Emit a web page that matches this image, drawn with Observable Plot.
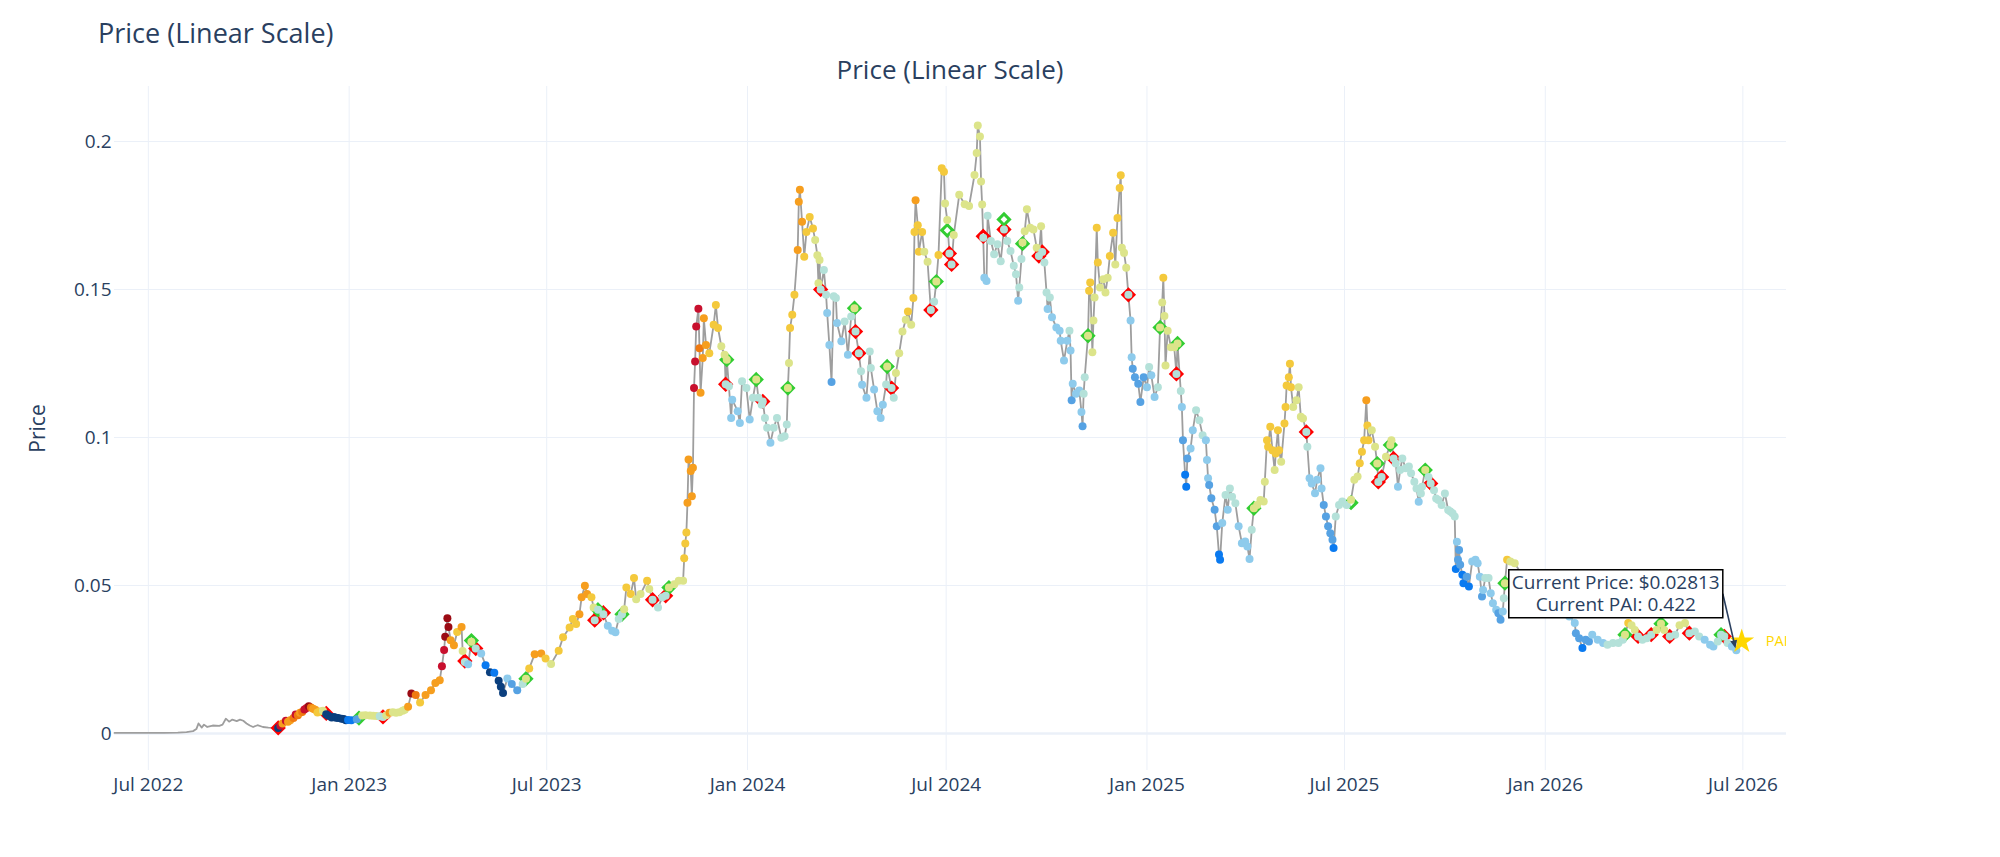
<!DOCTYPE html>
<html>
<head>
<meta charset="utf-8">
<script src="https://cdn.jsdelivr.net/npm/d3@7"></script>
<script src="https://cdn.jsdelivr.net/npm/@observablehq/plot@0.6"></script>
<style>
  body { margin: 0; background: #fff; font-family: "Open Sans", sans-serif; }
  #wrap { width: 2000px; }
  #header { position: relative; height: 86px; }
  #title { position: absolute; left: 98px; top: 19px; font-size: 27px; line-height: 27px; color: #2a3f5f; white-space: nowrap; }
  #subtitle { position: absolute; left: 114px; width: 1672px; text-align: center; top: 56px; font-size: 26px; line-height: 26px; color: #2a3f5f; white-space: nowrap; }
</style>
</head>
<body>
<div id="wrap">
  <div id="header">
    <div id="title">Price (Linear Scale)</div>
    <div id="subtitle">Price (Linear Scale)</div>
  </div>
  <div id="chart"></div>
</div>
<script>
// ---------- DATA ----------
const xTicks = ["2022-07-01","2023-01-01","2023-07-01","2024-01-01","2024-07-01","2025-01-01","2025-07-01","2026-01-01","2026-07-01"];
const yTicks = [0, 0.05, 0.1, 0.15, 0.2];
const yLabel = "Price";
const starLabel = "PAI";

// price before PAI signal history (gray line only) [date, price]
const earlyPrice = [
["2022-05-31",0.0002],["2022-06-15",0.0002],["2022-07-01",0.0002],["2022-07-15",0.0002],["2022-07-28",0.0003],
["2022-08-05",0.0005],["2022-08-11",0.0008],["2022-08-14",0.0015],["2022-08-16",0.0034],["2022-08-19",0.0020],
["2022-08-21",0.0030],["2022-08-24",0.0022],["2022-08-29",0.0027],["2022-09-04",0.0026],["2022-09-07",0.0030],
["2022-09-10",0.0050],["2022-09-13",0.0040],["2022-09-16",0.0047],["2022-09-20",0.0042],["2022-09-23",0.0047],
["2022-09-26",0.0043],["2022-09-29",0.0034],["2022-10-02",0.0027],["2022-10-05",0.0022],["2022-10-09",0.0028],
["2022-10-14",0.0022],["2022-10-19",0.0020]
];

// [date, price, PAI]
const pai2022 = [
["2022-10-28",0.0019,0.05],["2022-10-30",0.0026,0.9],["2022-11-01",0.0034,0.75],["2022-11-04",0.0043,0.9],
["2022-11-06",0.0040,0.75],["2022-11-08",0.0045,0.75],["2022-11-11",0.0052,0.83],["2022-11-13",0.0064,0.9],
["2022-11-15",0.0062,0.83],["2022-11-17",0.0070,0.75],["2022-11-19",0.0073,0.83],["2022-11-21",0.0081,0.9],
["2022-11-23",0.0086,0.9],["2022-11-25",0.0092,0.97],["2022-11-27",0.0088,0.83],["2022-11-29",0.0084,0.75],
["2022-12-01",0.0080,0.75],["2022-12-03",0.0071,0.65],["2022-12-05",0.0074,0.65],["2022-12-08",0.0077,0.55],
["2022-12-11",0.0065,0.05],["2022-12-13",0.0060,0.05],["2022-12-16",0.0054,0.05],["2022-12-18",0.0056,0.05],
["2022-12-20",0.0053,0.05],["2022-12-22",0.0052,0.05],["2022-12-25",0.0050,0.05],["2022-12-27",0.0049,0.05],
["2022-12-29",0.0045,0.05],["2022-12-31",0.0046,0.15]
];

const pai2023 = [
["2023-01-03",0.0045,0.15],["2023-01-08",0.0048,0.25],["2023-01-13",0.0061,0.55],["2023-01-16",0.0062,0.55],
["2023-01-20",0.0061,0.55],["2023-01-23",0.0060,0.55],["2023-01-26",0.0059,0.55],["2023-01-29",0.0058,0.45],
["2023-02-01",0.0056,0.45],["2023-02-04",0.0062,0.55],["2023-02-07",0.0070,0.75],["2023-02-10",0.0072,0.55],
["2023-02-13",0.0070,0.55],["2023-02-16",0.0072,0.55],["2023-02-19",0.0077,0.55],["2023-02-21",0.0080,0.55],
["2023-02-24",0.0090,0.75],["2023-02-27",0.0135,0.97],["2023-03-03",0.0130,0.83],["2023-03-07",0.0105,0.65],
["2023-03-12",0.0130,0.75],["2023-03-17",0.0146,0.75],["2023-03-21",0.0171,0.75],["2023-03-25",0.0180,0.75],
["2023-03-27",0.0227,0.9],["2023-03-29",0.0282,0.9],["2023-03-30",0.0327,0.97],["2023-04-01",0.0389,0.97],
["2023-04-02",0.0360,0.97],["2023-04-04",0.0315,0.75],["2023-04-07",0.0298,0.75],["2023-04-10",0.0343,0.65],
["2023-04-14",0.0360,0.75],["2023-04-15",0.0279,0.55],["2023-04-17",0.0242,0.45],["2023-04-20",0.0234,0.35],
["2023-04-23",0.0310,0.55],["2023-04-27",0.0287,0.45],["2023-05-02",0.0270,0.35],["2023-05-06",0.0231,0.15],
["2023-05-10",0.0207,0.05],["2023-05-14",0.0205,0.15],["2023-05-18",0.0178,0.05],["2023-05-20",0.0158,0.05],
["2023-05-22",0.0137,0.05],["2023-05-26",0.0186,0.35],["2023-05-30",0.0167,0.25],["2023-06-04",0.0146,0.25],
["2023-06-09",0.0167,0.45],["2023-06-12",0.0185,0.55],["2023-06-15",0.0220,0.65],["2023-06-20",0.0268,0.75],
["2023-06-26",0.0270,0.75],["2023-06-30",0.0253,0.65],["2023-07-05",0.0235,0.55],["2023-07-12",0.0280,0.65],
["2023-07-16",0.0325,0.65],["2023-07-22",0.0358,0.65],["2023-07-25",0.0387,0.65],["2023-07-28",0.0370,0.65],
["2023-07-31",0.0403,0.75],["2023-08-02",0.0460,0.75],["2023-08-05",0.0499,0.75],["2023-08-07",0.0471,0.75],
["2023-08-11",0.0460,0.65],["2023-08-13",0.0426,0.55],["2023-08-14",0.0383,0.45],["2023-08-17",0.0418,0.45],
["2023-08-22",0.0403,0.45],["2023-08-26",0.0364,0.35],["2023-08-30",0.0347,0.35],["2023-09-02",0.0342,0.35],
["2023-09-05",0.0387,0.45],["2023-09-08",0.0403,0.45],["2023-09-10",0.0420,0.55],["2023-09-12",0.0493,0.65],
["2023-09-16",0.0471,0.65],["2023-09-19",0.0525,0.65],["2023-09-21",0.0454,0.55],["2023-09-25",0.0471,0.55],
["2023-10-01",0.0516,0.65],["2023-10-03",0.0488,0.55],["2023-10-06",0.0452,0.45],["2023-10-11",0.0426,0.45],
["2023-10-15",0.0460,0.45],["2023-10-18",0.0465,0.45],["2023-10-21",0.0493,0.55],["2023-10-26",0.0504,0.55],
["2023-10-30",0.0516,0.55],["2023-11-03",0.0516,0.55],["2023-11-04",0.0592,0.65],["2023-11-05",0.0642,0.65],
["2023-11-06",0.0679,0.65],["2023-11-07",0.0780,0.75],["2023-11-08",0.0926,0.75],["2023-11-10",0.0887,0.75],
["2023-11-11",0.0802,0.75],["2023-11-12",0.0898,0.75],["2023-11-13",0.1167,0.9],["2023-11-14",0.1257,0.9],
["2023-11-15",0.1375,0.9],["2023-11-17",0.1435,0.9],["2023-11-18",0.1302,0.83],["2023-11-19",0.1151,0.75],
["2023-11-21",0.1269,0.75],["2023-11-22",0.1403,0.75],["2023-11-24",0.1313,0.75],["2023-11-27",0.1285,0.65],
["2023-12-01",0.1381,0.65],["2023-12-03",0.1448,0.65],["2023-12-05",0.1370,0.65],["2023-12-08",0.1308,0.55],
["2023-12-11",0.1280,0.55],["2023-12-12",0.1180,0.45],["2023-12-13",0.1263,0.55],["2023-12-15",0.1173,0.45],
["2023-12-17",0.1066,0.35],["2023-12-18",0.1128,0.35],["2023-12-23",0.1089,0.35],["2023-12-25",0.1049,0.35],
["2023-12-27",0.1190,0.45],["2023-12-31",0.1167,0.45]
];

const pai2024 = [
["2024-01-03",0.1061,0.35],["2024-01-06",0.1134,0.45],["2024-01-09",0.1196,0.55],["2024-01-11",0.1134,0.45],
["2024-01-14",0.1111,0.45],["2024-01-15",0.1122,0.45],["2024-01-17",0.1066,0.45],["2024-01-19",0.1033,0.45],
["2024-01-22",0.0982,0.35],["2024-01-25",0.1033,0.45],["2024-01-28",0.1066,0.45],["2024-02-01",0.0999,0.45],
["2024-02-04",0.1004,0.45],["2024-02-06",0.1044,0.45],["2024-02-07",0.1167,0.55],["2024-02-08",0.1252,0.55],
["2024-02-09",0.1370,0.65],["2024-02-11",0.1415,0.65],["2024-02-13",0.1482,0.65],["2024-02-16",0.1634,0.75],
["2024-02-17",0.1797,0.75],["2024-02-18",0.1837,0.75],["2024-02-20",0.1729,0.75],["2024-02-22",0.1611,0.65],
["2024-02-24",0.1694,0.65],["2024-02-27",0.1745,0.65],["2024-03-01",0.1706,0.65],["2024-03-03",0.1667,0.55],
["2024-03-05",0.1616,0.55],["2024-03-06",0.1521,0.55],["2024-03-07",0.1600,0.55],["2024-03-08",0.1500,0.45],
["2024-03-11",0.1566,0.45],["2024-03-13",0.1482,0.45],["2024-03-14",0.1421,0.35],["2024-03-16",0.1313,0.35],
["2024-03-18",0.1188,0.25],["2024-03-20",0.1477,0.45],["2024-03-22",0.1471,0.45],["2024-03-23",0.1387,0.35],
["2024-03-27",0.1325,0.35],["2024-03-30",0.1392,0.45],["2024-04-02",0.1280,0.35],["2024-04-05",0.1409,0.45],
["2024-04-08",0.1437,0.55],["2024-04-09",0.1358,0.45],["2024-04-12",0.1285,0.45],["2024-04-14",0.1224,0.45],
["2024-04-15",0.1178,0.35],["2024-04-19",0.1134,0.35],["2024-04-22",0.1291,0.45],["2024-04-23",0.1235,0.45],
["2024-04-26",0.1162,0.35],["2024-04-29",0.1089,0.35],["2024-05-02",0.1066,0.35],["2024-05-04",0.1111,0.35],
["2024-05-07",0.1179,0.45],["2024-05-08",0.1240,0.55],["2024-05-12",0.1167,0.45],["2024-05-14",0.1134,0.45],
["2024-05-16",0.1218,0.55],["2024-05-19",0.1285,0.55],["2024-05-22",0.1358,0.55],["2024-05-25",0.1398,0.55],
["2024-05-27",0.1426,0.65],["2024-05-30",0.1381,0.55],["2024-06-01",0.1471,0.65],["2024-06-02",0.1694,0.65],
["2024-06-03",0.1802,0.75],["2024-06-05",0.1717,0.65],["2024-06-06",0.1628,0.65],["2024-06-09",0.1694,0.65],
["2024-06-11",0.1628,0.55],["2024-06-14",0.1594,0.55],["2024-06-17",0.1431,0.45],["2024-06-20",0.1459,0.45],
["2024-06-22",0.1527,0.55],["2024-06-24",0.1617,0.65],["2024-06-27",0.1910,0.65],["2024-06-29",0.1898,0.65],
["2024-06-30",0.1791,0.55],["2024-07-02",0.1735,0.55],["2024-07-04",0.1622,0.45],["2024-07-06",0.1585,0.45],
["2024-07-08",0.1684,0.55],["2024-07-13",0.1820,0.55],["2024-07-18",0.1788,0.55],["2024-07-22",0.1782,0.55],
["2024-07-27",0.1887,0.55],["2024-07-29",0.1961,0.55],["2024-07-30",0.2054,0.55],["2024-08-01",0.2017,0.55],
["2024-08-02",0.1865,0.55],["2024-08-03",0.1787,0.55],["2024-08-04",0.1675,0.45],["2024-08-05",0.1540,0.35],
["2024-08-07",0.1529,0.35],["2024-08-08",0.1749,0.45],["2024-08-11",0.1664,0.45],["2024-08-14",0.1619,0.45],
["2024-08-17",0.1653,0.45],["2024-08-20",0.1596,0.45],["2024-08-23",0.1703,0.45],["2024-08-26",0.1664,0.45],
["2024-08-29",0.1630,0.45],["2024-09-01",0.1580,0.45],["2024-09-03",0.1552,0.45],["2024-09-05",0.1462,0.35],
["2024-09-06",0.1507,0.45],["2024-09-08",0.1603,0.45],["2024-09-09",0.1659,0.55],["2024-09-11",0.1697,0.55],
["2024-09-13",0.1771,0.55],["2024-09-16",0.1709,0.55],["2024-09-19",0.1703,0.55],["2024-09-22",0.1641,0.55],
["2024-09-24",0.1613,0.45],["2024-09-26",0.1714,0.55],["2024-09-27",0.1627,0.45],["2024-09-29",0.1591,0.45],
["2024-10-01",0.1490,0.45],["2024-10-02",0.1434,0.35],["2024-10-04",0.1473,0.45],["2024-10-06",0.1406,0.35],
["2024-10-10",0.1372,0.35],["2024-10-13",0.1361,0.35],["2024-10-14",0.1327,0.35],["2024-10-17",0.1260,0.35],
["2024-10-20",0.1327,0.35],["2024-10-22",0.1361,0.45],["2024-10-23",0.1294,0.35],["2024-10-24",0.1126,0.25],
["2024-10-25",0.1182,0.35],["2024-10-28",0.1148,0.35],["2024-10-31",0.1159,0.35],["2024-11-02",0.1086,0.35],
["2024-11-03",0.1038,0.25],["2024-11-04",0.1148,0.45],["2024-11-05",0.1204,0.45],["2024-11-08",0.1344,0.55],
["2024-11-09",0.1496,0.65],["2024-11-10",0.1524,0.65],["2024-11-12",0.1288,0.55],["2024-11-13",0.1395,0.55],
["2024-11-14",0.1473,0.55],["2024-11-16",0.1709,0.65],["2024-11-17",0.1591,0.65],["2024-11-19",0.1507,0.55],
["2024-11-22",0.1535,0.55],["2024-11-24",0.1490,0.55],["2024-11-26",0.1540,0.55],["2024-11-28",0.1613,0.65],
["2024-12-01",0.1692,0.65],["2024-12-03",0.1585,0.55],["2024-12-05",0.1742,0.65],["2024-12-07",0.1843,0.65],
["2024-12-08",0.1886,0.65],["2024-12-09",0.1641,0.55],["2024-12-11",0.1624,0.55],["2024-12-13",0.1574,0.55],
["2024-12-15",0.1482,0.45],["2024-12-17",0.1395,0.35],["2024-12-18",0.1271,0.35],["2024-12-19",0.1232,0.25],
["2024-12-21",0.1204,0.25],["2024-12-24",0.1182,0.25],["2024-12-26",0.1120,0.25],["2024-12-29",0.1204,0.25]
];

const pai2025 = [
["2025-01-01",0.1170,0.35],["2025-01-03",0.1238,0.45],["2025-01-05",0.1210,0.35],["2025-01-08",0.1137,0.35],
["2025-01-11",0.1170,0.45],["2025-01-13",0.1372,0.55],["2025-01-15",0.1456,0.55],["2025-01-16",0.1540,0.65],
["2025-01-17",0.1411,0.55],["2025-01-18",0.1243,0.55],["2025-01-20",0.1361,0.55],["2025-01-23",0.1305,0.55],
["2025-01-26",0.1305,0.55],["2025-01-28",0.1215,0.45],["2025-01-29",0.1318,0.55],["2025-02-01",0.1157,0.45],
["2025-02-02",0.1103,0.35],["2025-02-03",0.0991,0.25],["2025-02-05",0.0874,0.15],["2025-02-06",0.0834,0.15],
["2025-02-07",0.0929,0.25],["2025-02-10",0.0963,0.35],["2025-02-12",0.1025,0.35],["2025-02-15",0.1092,0.45],
["2025-02-18",0.1058,0.45],["2025-02-21",0.1008,0.45],["2025-02-24",0.0991,0.35],["2025-02-25",0.0924,0.35],
["2025-02-26",0.0862,0.35],["2025-02-27",0.0840,0.25],["2025-03-01",0.0795,0.25],["2025-03-04",0.0756,0.25],
["2025-03-06",0.0700,0.25],["2025-03-08",0.0605,0.15],["2025-03-09",0.0587,0.15],["2025-03-11",0.0711,0.35],
["2025-03-14",0.0806,0.45],["2025-03-16",0.0756,0.35],["2025-03-18",0.0828,0.45],["2025-03-20",0.0800,0.45],
["2025-03-23",0.0778,0.45],["2025-03-26",0.0700,0.35],["2025-03-29",0.0643,0.35],["2025-04-01",0.0649,0.35],
["2025-04-03",0.0632,0.35],["2025-04-05",0.0590,0.35],["2025-04-07",0.0688,0.45],["2025-04-09",0.0761,0.55],
["2025-04-12",0.0772,0.55],["2025-04-15",0.0789,0.55],["2025-04-18",0.0784,0.55],["2025-04-19",0.0851,0.55],
["2025-04-21",0.0991,0.65],["2025-04-22",0.0969,0.65],["2025-04-24",0.1036,0.65],["2025-04-26",0.0957,0.65],
["2025-04-28",0.0890,0.55],["2025-04-29",0.0946,0.65],["2025-05-01",0.1025,0.65],["2025-05-02",0.0957,0.65],
["2025-05-04",0.0918,0.55],["2025-05-07",0.1047,0.65],["2025-05-08",0.1103,0.65],["2025-05-09",0.1176,0.65],
["2025-05-11",0.1204,0.65],["2025-05-12",0.1249,0.65],["2025-05-13",0.1170,0.65],["2025-05-15",0.1103,0.55],
["2025-05-18",0.1126,0.55],["2025-05-20",0.1170,0.55],["2025-05-22",0.1070,0.55],["2025-05-24",0.1064,0.55],
["2025-05-27",0.1019,0.45],["2025-05-28",0.0969,0.45],["2025-05-30",0.0862,0.35],["2025-06-01",0.0845,0.35],
["2025-06-04",0.0812,0.35],["2025-06-06",0.0857,0.35],["2025-06-09",0.0896,0.35],["2025-06-10",0.0828,0.35],
["2025-06-12",0.0772,0.25],["2025-06-14",0.0733,0.25],["2025-06-16",0.0700,0.25],["2025-06-18",0.0677,0.25],
["2025-06-20",0.0655,0.25],["2025-06-21",0.0627,0.15],["2025-06-23",0.0733,0.45],["2025-06-26",0.0772,0.45],
["2025-06-29",0.0784,0.45],["2025-07-03",0.0772,0.45],["2025-07-07",0.0790,0.55],["2025-07-10",0.0857,0.55],
["2025-07-13",0.0868,0.55],["2025-07-15",0.0913,0.65],["2025-07-17",0.0952,0.65],["2025-07-19",0.0991,0.65],
["2025-07-21",0.1126,0.75],["2025-07-22",0.1041,0.65],["2025-07-23",0.0991,0.65],["2025-07-26",0.1025,0.55],
["2025-07-29",0.0969,0.55],["2025-07-31",0.0912,0.55],["2025-08-01",0.0850,0.45],["2025-08-04",0.0867,0.45],
["2025-08-08",0.0935,0.55],["2025-08-12",0.0975,0.55],["2025-08-13",0.0991,0.55],["2025-08-15",0.0929,0.45],
["2025-08-17",0.0912,0.45],["2025-08-19",0.0834,0.35],["2025-08-21",0.0890,0.45],["2025-08-23",0.0929,0.45],
["2025-08-26",0.0896,0.45],["2025-08-29",0.0902,0.45],["2025-08-31",0.0879,0.45],["2025-09-03",0.0851,0.45],
["2025-09-05",0.0828,0.45],["2025-09-07",0.0783,0.35],["2025-09-09",0.0811,0.45],["2025-09-10",0.0834,0.45],
["2025-09-13",0.0890,0.55],["2025-09-16",0.0867,0.45],["2025-09-18",0.0845,0.45],["2025-09-21",0.0822,0.45],
["2025-09-23",0.0794,0.45],["2025-09-25",0.0789,0.45],["2025-09-28",0.0772,0.45],["2025-10-01",0.0811,0.45],
["2025-10-04",0.0755,0.45],["2025-10-06",0.0750,0.45],["2025-10-08",0.0744,0.45],["2025-10-10",0.0733,0.45],
["2025-10-11",0.0556,0.15],["2025-10-12",0.0648,0.35],["2025-10-13",0.0587,0.25],["2025-10-14",0.0620,0.25],
["2025-10-15",0.0570,0.25],["2025-10-17",0.0536,0.15],["2025-10-18",0.0508,0.15],["2025-10-21",0.0530,0.25],
["2025-10-23",0.0497,0.15],["2025-10-26",0.0581,0.35],["2025-10-29",0.0587,0.35],["2025-10-31",0.0575,0.35],
["2025-11-02",0.0530,0.35],["2025-11-04",0.0463,0.25],["2025-11-05",0.0485,0.35],["2025-11-07",0.0525,0.45],
["2025-11-10",0.0525,0.45],["2025-11-12",0.0474,0.35],["2025-11-14",0.0440,0.35],["2025-11-17",0.0418,0.35],
["2025-11-19",0.0406,0.25],["2025-11-21",0.0384,0.25],["2025-11-23",0.0412,0.35],["2025-11-24",0.0457,0.45],
["2025-11-25",0.0508,0.55],["2025-11-27",0.0587,0.65],["2025-11-30",0.0581,0.55],["2025-12-04",0.0575,0.55],
["2025-12-10",0.0540,0.55],["2025-12-16",0.0510,0.45],["2025-12-22",0.0480,0.45],["2025-12-28",0.0460,0.35]
];

const pai2026 = [
["2026-01-04",0.0450,0.35],["2026-01-10",0.0430,0.35],["2026-01-17",0.0410,0.35],["2026-01-23",0.0395,0.35],
["2026-01-28",0.0373,0.35],["2026-01-29",0.0339,0.25],["2026-02-01",0.0322,0.25],["2026-02-04",0.0289,0.15],
["2026-02-07",0.0317,0.25],["2026-02-10",0.0311,0.25],["2026-02-13",0.0334,0.35],["2026-02-18",0.0317,0.35],
["2026-02-23",0.0306,0.35],["2026-02-27",0.0300,0.45],["2026-03-04",0.0306,0.45],["2026-03-09",0.0306,0.45],
["2026-03-13",0.0317,0.45],["2026-03-15",0.0334,0.55],["2026-03-18",0.0373,0.65],["2026-03-21",0.0366,0.55],
["2026-03-24",0.0350,0.55],["2026-03-27",0.0328,0.45],["2026-03-31",0.0317,0.45],["2026-04-04",0.0322,0.45],
["2026-04-08",0.0334,0.45],["2026-04-13",0.0350,0.55],["2026-04-17",0.0371,0.55],["2026-04-20",0.0350,0.55],
["2026-04-25",0.0328,0.45],["2026-04-30",0.0334,0.45],["2026-05-04",0.0366,0.55],["2026-05-09",0.0373,0.55],
["2026-05-13",0.0339,0.45],["2026-05-18",0.0345,0.45],["2026-05-22",0.0328,0.45],["2026-05-27",0.0317,0.35],
["2026-06-01",0.0300,0.35],["2026-06-04",0.0294,0.35],["2026-06-08",0.0311,0.45],["2026-06-11",0.0334,0.45],
["2026-06-14",0.0328,0.45],["2026-06-17",0.0306,0.45],["2026-06-21",0.0294,0.35],["2026-06-25",0.02813,0.422]
];

// buy / sell signals [date, price]
const buySignals = [
["2023-01-10",0.0052],["2023-04-23",0.0314],["2023-06-12",0.0185],["2023-08-17",0.0418],["2023-09-08",0.0403],
["2023-10-21",0.0493],["2023-12-13",0.1263],["2024-01-09",0.1196],["2024-02-07",0.1167],["2024-04-08",0.1437],
["2024-05-08",0.1240],["2024-06-22",0.1527],["2024-07-02",0.1700],["2024-08-23",0.1737],["2024-09-09",0.1655],
["2024-11-08",0.1344],["2025-01-13",0.1372],["2025-01-29",0.1318],["2025-04-09",0.0761],["2025-07-07",0.0780],
["2025-07-31",0.0912],["2025-08-12",0.0975],["2025-09-13",0.0890],["2025-11-25",0.0508],["2026-03-15",0.0334],
["2026-04-17",0.0371],["2026-06-11",0.0334]
];
const sellSignals = [
["2022-10-28",0.0019],["2022-12-11",0.0068],["2023-02-01",0.0056],["2023-04-17",0.0245],["2023-04-27",0.0287],
["2023-08-14",0.0383],["2023-08-22",0.0408],["2023-10-06",0.0452],["2023-10-18",0.0465],["2023-12-12",0.1180],
["2024-01-15",0.1122],["2024-03-08",0.1500],["2024-04-09",0.1358],["2024-04-12",0.1285],["2024-05-12",0.1167],
["2024-06-17",0.1431],["2024-07-04",0.1622],["2024-07-06",0.1585],["2024-08-04",0.1680],["2024-08-23",0.1703],
["2024-09-24",0.1613],["2024-09-27",0.1627],["2024-12-15",0.1482],["2025-01-28",0.1215],["2025-05-27",0.1019],
["2025-08-01",0.0850],["2025-08-04",0.0867],["2025-08-15",0.0929],["2025-09-18",0.0845],["2026-03-27",0.0328],
["2026-04-08",0.0334],["2026-04-25",0.0328],["2026-05-13",0.0339],["2026-06-14",0.0328]
];
const starPoint = [["2026-06-30",0.0311]];

// PAI colour bands
const paiThresholds = [0.1, 0.2, 0.3, 0.43, 0.5, 0.6, 0.7, 0.8, 0.87, 0.94];
const paiColors = ["#0b3f7e","#0a7af0","#56a2e3","#8ecbec","#b4e1d9","#dce48a","#f4c93c","#f69e1e","#f07a10","#c8102e","#9b0b14"];

// ---------- BUILD ----------
const pt = ([d, p, v]) => ({date: new Date(d), price: p, pai: v});
const colored = [...pai2022, ...pai2023, ...pai2024, ...pai2025, ...pai2026].map(pt);
const lineData = [...earlyPrice.map(pt), ...colored];
const buys = buySignals.map(pt);
const sells = sellSignals.map(pt);
const star = starPoint.map(pt);
const xTickDates = xTicks.map(d => new Date(d));
const last = colored[colored.length - 1];

const ink = "#2a3f5f";
const gridColor = "#ebf0f8";

function annotation(index, scales) {
  const px = scales.x(last.date), py = scales.y(last.price);
  const tx = px - 13, ty = py - 56;
  const bw = 214, bh = 48;
  const g = d3.create("svg:g");
  const dx = px - tx, dy = py - ty, len = Math.hypot(dx, dy);
  const ux = dx / len, uy = dy / len;
  const hx = px - ux * 1.5, hy = py - uy * 1.5;
  g.append("line").attr("x1", tx).attr("y1", ty).attr("x2", hx - ux * 6).attr("y2", hy - uy * 6)
    .attr("stroke", ink).attr("stroke-width", 1.6);
  g.append("path")
    .attr("d", `M${hx},${hy}L${hx - ux * 8 - uy * 3.5},${hy - uy * 8 + ux * 3.5}L${hx - ux * 8 + uy * 3.5},${hy - uy * 8 - ux * 3.5}Z`)
    .attr("fill", ink);
  g.append("rect").attr("x", tx - bw).attr("y", ty - bh / 2).attr("width", bw).attr("height", bh)
    .attr("fill", "white").attr("stroke", "black").attr("stroke-width", 1.5);
  const lines = [`Current Price: $${last.price.toFixed(5)}`, `Current PAI: ${last.pai.toFixed(3)}`];
  lines.forEach((t, i) => {
    g.append("text").attr("x", tx - bw / 2).attr("y", ty + (i === 0 ? -11 : 11)).attr("dy", "0.35em")
      .attr("text-anchor", "middle").attr("fill", ink)
      .attr("font-family", '"Open Sans", sans-serif').attr("font-size", 19).text(t);
  });
  return g.node();
}

const chart = Plot.plot({
  width: 2000,
  height: 771,
  marginTop: 0,
  marginBottom: 87,
  marginLeft: 114,
  marginRight: 214,
  style: {fontFamily: '"Open Sans", sans-serif', background: "white", color: ink, overflow: "visible"},
  x: {type: "utc", domain: [new Date("2022-05-31"), new Date("2026-08-10")]},
  y: {domain: [-0.0125, 0.2186]},
  color: {type: "threshold", domain: paiThresholds, range: paiColors},
  marks: [
    Plot.gridX(xTickDates, {stroke: gridColor, strokeOpacity: 1, strokeWidth: 1}),
    Plot.gridY(yTicks, {stroke: gridColor, strokeOpacity: 1, strokeWidth: 1}),
    Plot.ruleY([0], {stroke: gridColor, strokeWidth: 2.5}),
    Plot.axisX(xTickDates, {tickSize: 0, tickPadding: 7, tickFormat: d3.utcFormat("%b %Y"), fontSize: 19, fill: ink, label: null}),
    Plot.axisY(yTicks, {tickSize: 0, tickPadding: 3, tickFormat: d => String(d), fontSize: 19, fill: ink, label: null}),
    Plot.text([yLabel], {text: d => d, frameAnchor: "left", textAnchor: "middle", lineAnchor: "middle", dx: -76, rotate: -90, fontSize: 21, fill: ink}),
    Plot.line(lineData, {x: "date", y: "price", stroke: "#9e9e9e", strokeWidth: 1.8}),
    Plot.dot(sells, {x: "date", y: "price", symbol: "diamond2", r: 5, stroke: "#ff0000", strokeWidth: 3, fill: "white"}),
    Plot.dot(buys, {x: "date", y: "price", symbol: "diamond2", r: 5, stroke: "#32cd32", strokeWidth: 3, fill: "white"}),
    Plot.dot(colored, {x: "date", y: "price", fill: "pai", r: 4}),
    Plot.dot(star, {x: "date", y: "price", symbol: "star", r: 7.8, fill: "#FFD700"}),
    Plot.text(star, {x: "date", y: "price", text: () => starLabel, dx: 24, textAnchor: "start", fill: "#FFD700", fontSize: 14.5, clip: true}),
    annotation
  ]
});
document.getElementById("chart").appendChild(chart);
</script>
</body>
</html>
